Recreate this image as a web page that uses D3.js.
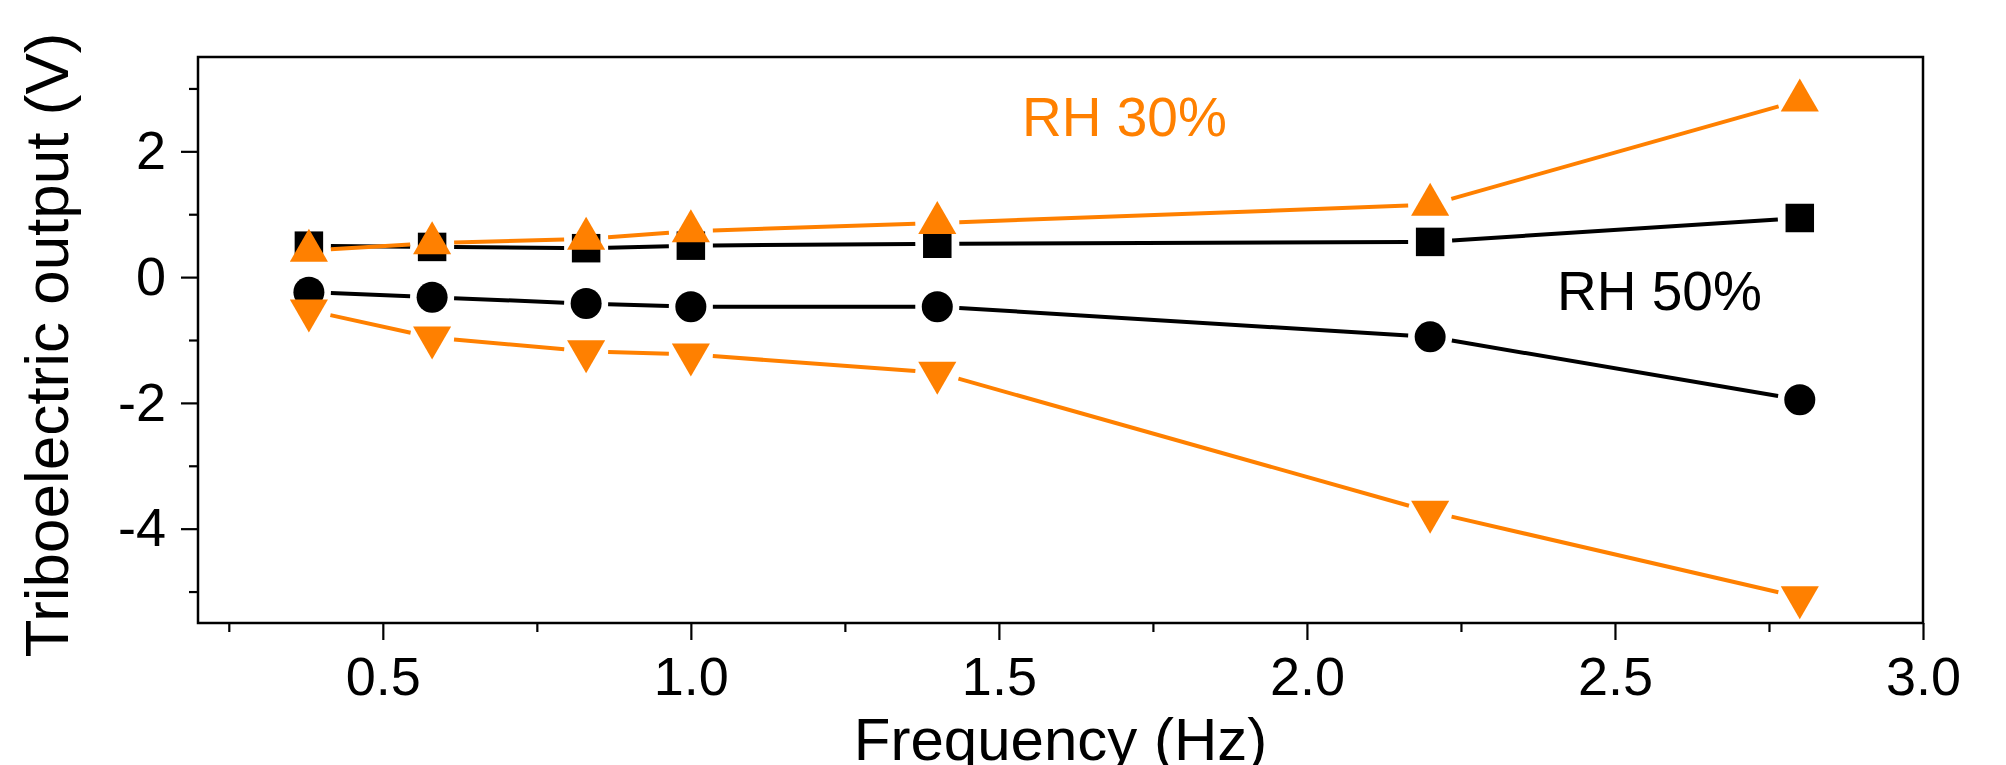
<!DOCTYPE html>
<html>
<head>
<meta charset="utf-8">
<script src="https://cdn.jsdelivr.net/npm/d3@7"></script>
<style>
    body { margin: 0; background: #fff; }
    svg text { font-family: "Liberation Sans", Arial, sans-serif; }
</style>
</head>
<body>
<div id="chart"></div>
<script>

// frequencies (Hz)
let freq = [0.38, 0.58, 0.83, 1.0, 1.4, 2.2, 2.8];

// RH 50% (black)
let rh50Pos = [0.50, 0.48, 0.46, 0.50, 0.53, 0.56, 0.94];
let rh50Neg = [-0.24, -0.32, -0.42, -0.47, -0.47, -0.95, -1.95];

// RH 30% (orange)
let rh30Pos = [0.42, 0.54, 0.61, 0.73, 0.86, 1.15, 2.81];
let rh30Neg = [-0.53, -0.96, -1.18, -1.23, -1.52, -3.73, -5.09];

let xTicks = [0.5, 1.0, 1.5, 2.0, 2.5, 3.0];
let xMinor = [0.25, 0.75, 1.25, 1.75, 2.25, 2.75];
let yTicks = [2, 0, -2, -4];
let yMinor = [3, 1, -1, -3, -5];

let seriesNames = ["RH 30%", "RH 50%"];

/**
class for the frequency chart
*/
class FreqChart {

    constructor() {
        this.width = 2006;
        this.height = 765;
        this.margin = {top: 57, right: 83, bottom: 142, left: 198};
        this.orange = "#ff8000";

        this.drawChart();
    }

    /**
    Draw axes, frame and all series
    */
    drawChart() {
        let m = this.margin;
        let w = this.width - m.left - m.right;
        let h = this.height - m.top - m.bottom;

        this.x = d3.scaleLinear().domain([0.2, 3.0]).range([0, w]);
        this.y = d3.scaleLinear().domain([-5.5, 3.5]).range([h, 0]);

        let svg = d3.select('#chart').append('svg')
            .attr('width', this.width)
            .attr('height', this.height);

        let g = svg.append('g').attr('transform', 'translate(' + m.left + ',' + m.top + ')');
        this.g = g;

        //minor ticks first, majors drawn over them
        g.append('g').attr('transform', 'translate(0,' + h + ')')
            .call(d3.axisBottom(this.x).tickValues(xMinor).tickSize(9).tickSizeOuter(0).tickFormat(''))
            .call(a => a.select('.domain').remove());
        g.append('g')
            .call(d3.axisLeft(this.y).tickValues(yMinor).tickSize(9).tickSizeOuter(0).tickFormat(''))
            .call(a => a.select('.domain').remove());

        let xAxis = g.append('g').attr('transform', 'translate(0,' + h + ')')
            .call(d3.axisBottom(this.x).tickValues(xTicks).tickSize(17).tickSizeOuter(0)
                .tickPadding(17).tickFormat(d3.format('.1f')));
        let yAxis = g.append('g')
            .call(d3.axisLeft(this.y).tickValues(yTicks).tickSize(17).tickSizeOuter(0)
                .tickPadding(15).tickFormat(d => d < 0 ? '-' + Math.abs(d) : d));

        [xAxis, yAxis].forEach(a => {
            a.select('.domain').remove();
            a.selectAll('text').attr('font-size', 54).attr('fill', '#000')
                .style('font-family', '"Liberation Sans", Arial, sans-serif');
        });
        g.selectAll('.tick line').attr('stroke', '#000').attr('stroke-width', 2.2);

        // frame
        g.append('rect')
            .attr('width', w).attr('height', h)
            .attr('fill', 'none').attr('stroke', '#000').attr('stroke-width', 2.5);

        // series, black first so orange sits on top
        this.drawSeries(rh50Pos, '#000', d3.symbolSquare, 812, 0);
        this.drawSeries(rh50Neg, '#000', d3.symbolCircle, 755, 0);
        this.drawSeries(rh30Pos, this.orange, d3.symbolTriangle, 629, 0);
        this.drawSeries(rh30Neg, this.orange, d3.symbolTriangle, 629, 180);

        // labels
        g.append('text').text(seriesNames[0])
            .attr('x', 1022 - m.left).attr('y', 136 - m.top)
            .attr('font-size', 55).attr('fill', this.orange);
        g.append('text').text(seriesNames[1])
            .attr('x', 1557 - m.left).attr('y', 310 - m.top)
            .attr('font-size', 55).attr('fill', '#000');

        // axis titles
        svg.append('text').text('Frequency (Hz)')
            .attr('x', m.left + w / 2).attr('y', 760)
            .attr('text-anchor', 'middle').attr('font-size', 60);
        svg.append('text').text('Triboelectric output (V)')
            .attr('transform', 'translate(68,345) rotate(-90)')
            .attr('text-anchor', 'middle').attr('font-size', 62);
    }

    /**
    Lines with a gap around each marker, then the markers
    */
    drawSeries(vals, color, shape, size, rot) {
        let that = this;
        let gap = 22;
        let pts = freq.map((f, i) => [that.x(f), that.y(vals[i])]);

        let segs = d3.pairs(pts).map(([a, b]) => {
            let dx = b[0] - a[0], dy = b[1] - a[1];
            let len = Math.sqrt(dx * dx + dy * dy);
            let ux = dx / len, uy = dy / len;
            return [[a[0] + ux * gap, a[1] + uy * gap], [b[0] - ux * gap, b[1] - uy * gap]];
        });

        this.g.append('g').selectAll('line').data(segs).enter().append('line')
            .attr('x1', d => d[0][0]).attr('y1', d => d[0][1])
            .attr('x2', d => d[1][0]).attr('y2', d => d[1][1])
            .attr('stroke', color).attr('stroke-width', 4);

        this.g.append('g').selectAll('path').data(pts).enter().append('path')
            .attr('d', d3.symbol().type(shape).size(size))
            .attr('transform', d => 'translate(' + d[0] + ',' + d[1] + ') rotate(' + rot + ')')
            .attr('fill', color);
    }
}

let chart = new FreqChart();

</script>
</body>
</html>
